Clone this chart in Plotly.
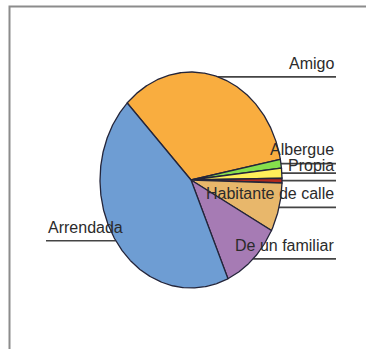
import numpy as np
import plotly.graph_objects as go

# ---- data (percentages) ----
categories = ["Amigo", "Albergue", "Propia", "", "Habitante de calle", "De un familiar", "Arrendada"]
values = [34.3, 1.3, 1.5, 0.7, 7.3, 10.6, 44.3]
colors = ["#F9AD3F", "#86DF4C", "#FFEF5A", "#B3281C", "#E8B76B", "#A67BB4", "#6E9DD3"]

# ---- styling / layout constants ----
W, H = 366, 349
CX, CY = 191.0, 180.0          # pie centre (px)
RX, RY = 91.0, 108.0           # ellipse radii (px)
START = 134.5                  # start angle (deg), clockwise
RIGHT_X, LEFT_X = 336.0, 46.0  # label column ends
OUTLINE = "#24253A"
TEXT_COL = "#2B2B2B"
LEAD_COL = "#444444"
# extra vertical shift of some labels (px, positive = down), as in the picture
LABEL_SHIFT = {"Albergue": -1.0, "Propia": 6.0}

fig = go.Figure()

total = float(sum(values))
fracs = [v / total for v in values]

# leader lines first (below the pie)
cum = 0.0
mids = []
for f in fracs:
    a0 = START - cum * 360.0
    a1 = a0 - f * 360.0
    m = np.radians((a0 + a1) / 2.0)
    mids.append(m)
    cum += f

for name, m in zip(categories, mids):
    ex = CX + RX * np.cos(m)
    ey = CY - RY * np.sin(m)
    if np.cos(m) >= 0:
        xs = [ex, RIGHT_X]
    else:
        xs = [LEFT_X, ex]
    fig.add_trace(go.Scatter(x=xs, y=[ey, ey], mode="lines",
                             line=dict(color=LEAD_COL, width=1.7),
                             hoverinfo="skip", showlegend=False))

# slices
cum = 0.0
for name, f, c in zip(categories, fracs, colors):
    a0 = START - cum * 360.0
    a1 = a0 - f * 360.0
    n = max(4, int(abs(a1 - a0) * 2))
    t = np.radians(np.linspace(a0, a1, n))
    xs = np.concatenate([[CX], CX + RX * np.cos(t), [CX]])
    ys = np.concatenate([[CY], CY - RY * np.sin(t), [CY]])
    fig.add_trace(go.Scatter(x=xs, y=ys, mode="lines", fill="toself",
                             fillcolor=c, line=dict(color=OUTLINE, width=1.3),
                             name=name, hoverinfo="name", showlegend=False))
    cum += f

# labels
for name, m in zip(categories, mids):
    if not name:
        continue
    ey = CY - RY * np.sin(m)
    right = np.cos(m) >= 0
    fig.add_annotation(x=RIGHT_X if right else LEFT_X,
                       y=ey - 3 + LABEL_SHIFT.get(name, 0.0),
                       text=name, showarrow=False,
                       xanchor="right" if right else "left", yanchor="bottom",
                       font=dict(family="Liberation Sans, Arial, sans-serif",
                                 size=16, color=TEXT_COL))

# frame (left and top edges visible, the rest runs off the picture)
fig.add_shape(type="rect", x0=9.5, y0=6.5, x1=W + 20, y1=H + 20,
              line=dict(color="#8C8C8C", width=2), layer="below")

fig.update_layout(
    width=W, height=H,
    margin=dict(l=0, r=0, t=0, b=0),
    paper_bgcolor="white", plot_bgcolor="white",
    xaxis=dict(range=[0, W], visible=False, fixedrange=True),
    yaxis=dict(range=[H, 0], visible=False, fixedrange=True),
    showlegend=False,
)

fig.write_html("out.html", config={"displayModeBar": False},
               post_script="document.body.style.margin='0';document.body.style.overflow='hidden';")
